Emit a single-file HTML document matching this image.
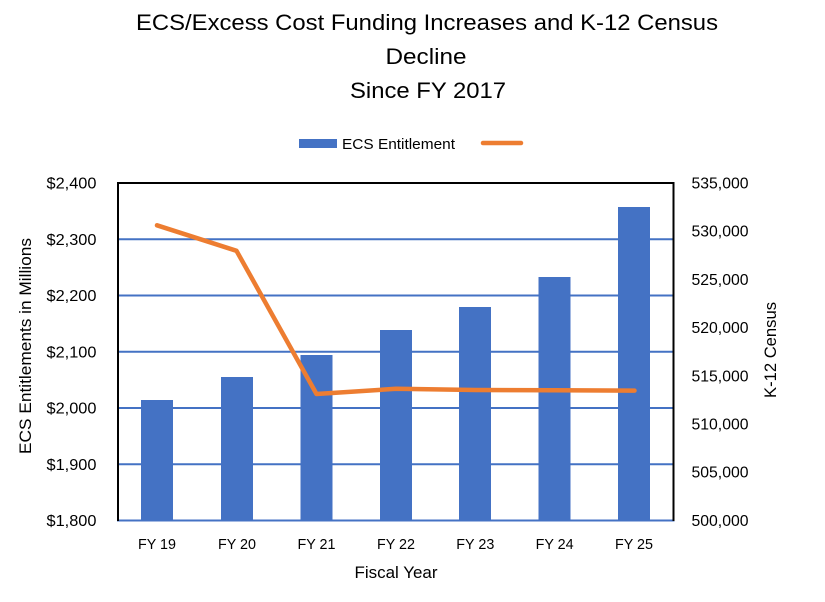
<!DOCTYPE html>
<html>
<head>
<meta charset="utf-8">
<style>
  html, body { margin: 0; padding: 0; background: #ffffff; }
  svg { display: block; }
  text { font-family: "Liberation Sans", sans-serif; fill: #000; }
</style>
</head>
<body>
<svg width="825" height="602" viewBox="0 0 825 602" xmlns="http://www.w3.org/2000/svg">
  <rect x="0" y="0" width="825" height="602" fill="#ffffff"/>

  <!-- Title -->
  <text x="427" y="30" font-size="22" text-anchor="middle" textLength="582" lengthAdjust="spacingAndGlyphs">ECS/Excess Cost Funding Increases and K-12 Census</text>
  <text x="426" y="64" font-size="22" text-anchor="middle" textLength="81" lengthAdjust="spacingAndGlyphs">Decline</text>
  <text x="428" y="98" font-size="22" text-anchor="middle" textLength="156" lengthAdjust="spacingAndGlyphs">Since FY 2017</text>

  <!-- Legend -->
  <rect x="299" y="139" width="38" height="9" fill="#4472C4"/>
  <text x="342" y="149" font-size="14.5" textLength="113" lengthAdjust="spacingAndGlyphs">ECS Entitlement</text>
  <line x1="483" y1="143" x2="521" y2="143" stroke="#ED7D31" stroke-width="4.5" stroke-linecap="round"/>

  <!-- Gridlines -->
  <g stroke="#4472C4" stroke-width="2">
    <line x1="118" y1="239.25" x2="673.5" y2="239.25"/>
    <line x1="118" y1="295.5" x2="673.5" y2="295.5"/>
    <line x1="118" y1="351.75" x2="673.5" y2="351.75"/>
    <line x1="118" y1="408" x2="673.5" y2="408"/>
    <line x1="118" y1="464.25" x2="673.5" y2="464.25"/>
  </g>

  <!-- Bars -->
  <g fill="#4472C4">
    <rect x="141" y="400" width="32" height="120.5"/>
    <rect x="221" y="377" width="32" height="143.5"/>
    <rect x="300.5" y="355" width="32" height="165.5"/>
    <rect x="380" y="330" width="32" height="190.5"/>
    <rect x="459" y="307" width="32" height="213.5"/>
    <rect x="538.5" y="277" width="32" height="243.5"/>
    <rect x="618" y="207" width="32" height="313.5"/>
  </g>

  <!-- Bottom axis line (blue) -->
  <line x1="117" y1="520.5" x2="674.5" y2="520.5" stroke="#4472C4" stroke-width="2"/>

  <!-- Frame -->
  <polyline points="118,521 118,183 673.5,183 673.5,521" fill="none" stroke="#000" stroke-width="2"/>

  <!-- Line series -->
  <polyline points="157,225.3 236.5,250.8 316.5,394 396,388.8 475.3,390 554.6,390.3 634.5,390.6"
            fill="none" stroke="#ED7D31" stroke-width="4.5" stroke-linecap="round" stroke-linejoin="round"/>

  <!-- Left axis labels -->
  <g font-size="15.5" text-anchor="end">
    <text x="96.5" y="188.5" textLength="50" lengthAdjust="spacingAndGlyphs">$2,400</text>
    <text x="96.5" y="244.75" textLength="50" lengthAdjust="spacingAndGlyphs">$2,300</text>
    <text x="96.5" y="301" textLength="50" lengthAdjust="spacingAndGlyphs">$2,200</text>
    <text x="96.5" y="357.25" textLength="50" lengthAdjust="spacingAndGlyphs">$2,100</text>
    <text x="96.5" y="413.5" textLength="50" lengthAdjust="spacingAndGlyphs">$2,000</text>
    <text x="96.5" y="469.75" textLength="50" lengthAdjust="spacingAndGlyphs">$1,900</text>
    <text x="96.5" y="526" textLength="50" lengthAdjust="spacingAndGlyphs">$1,800</text>
  </g>

  <!-- Right axis labels -->
  <g font-size="15.5">
    <text x="691.5" y="188.5" textLength="57" lengthAdjust="spacingAndGlyphs">535,000</text>
    <text x="691.5" y="236.7" textLength="57" lengthAdjust="spacingAndGlyphs">530,000</text>
    <text x="691.5" y="284.9" textLength="57" lengthAdjust="spacingAndGlyphs">525,000</text>
    <text x="691.5" y="333.1" textLength="57" lengthAdjust="spacingAndGlyphs">520,000</text>
    <text x="691.5" y="381.3" textLength="57" lengthAdjust="spacingAndGlyphs">515,000</text>
    <text x="691.5" y="429.5" textLength="57" lengthAdjust="spacingAndGlyphs">510,000</text>
    <text x="691.5" y="477.7" textLength="57" lengthAdjust="spacingAndGlyphs">505,000</text>
    <text x="691.5" y="526" textLength="57" lengthAdjust="spacingAndGlyphs">500,000</text>
  </g>

  <!-- X axis labels -->
  <g font-size="15" text-anchor="middle">
    <text x="157" y="549" textLength="38" lengthAdjust="spacingAndGlyphs">FY 19</text>
    <text x="237" y="549" textLength="38" lengthAdjust="spacingAndGlyphs">FY 20</text>
    <text x="316.5" y="549" textLength="38" lengthAdjust="spacingAndGlyphs">FY 21</text>
    <text x="396" y="549" textLength="38" lengthAdjust="spacingAndGlyphs">FY 22</text>
    <text x="475.3" y="549" textLength="38" lengthAdjust="spacingAndGlyphs">FY 23</text>
    <text x="554.6" y="549" textLength="38" lengthAdjust="spacingAndGlyphs">FY 24</text>
    <text x="634" y="549" textLength="38" lengthAdjust="spacingAndGlyphs">FY 25</text>
  </g>

  <!-- Axis titles -->
  <text x="396" y="578" font-size="16.5" text-anchor="middle" textLength="83" lengthAdjust="spacingAndGlyphs">Fiscal Year</text>
  <text transform="translate(31,346) rotate(-90)" font-size="16.5" text-anchor="middle" textLength="216" lengthAdjust="spacingAndGlyphs">ECS Entitlements in Millions</text>
  <text transform="translate(776,350) rotate(-90)" font-size="16.5" text-anchor="middle" textLength="96" lengthAdjust="spacingAndGlyphs">K-12 Census</text>
</svg>
</body>
</html>
